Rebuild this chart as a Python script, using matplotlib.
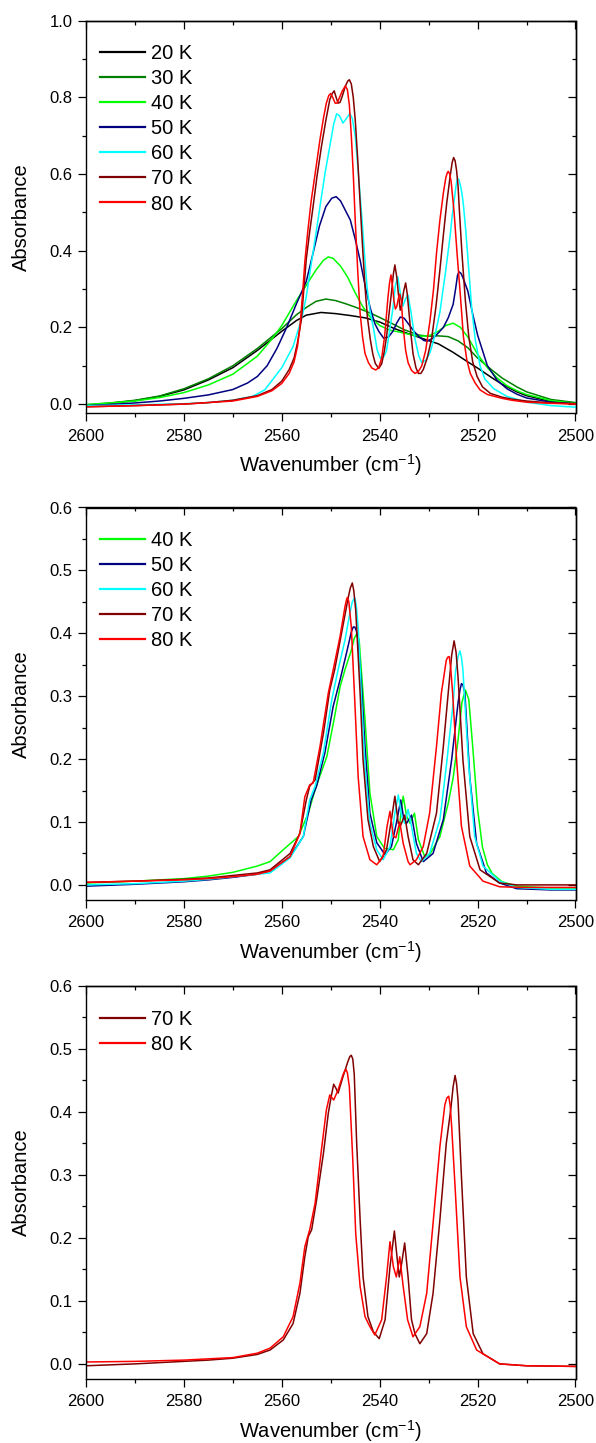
import matplotlib
matplotlib.use("Agg")
import matplotlib.pyplot as plt
from matplotlib.ticker import MultipleLocator, FormatStrFormatter

plt.rcParams["font.family"] = ["Liberation Sans", "DejaVu Sans"]
plt.rcParams["mathtext.fontset"] = "custom"
plt.rcParams["mathtext.rm"] = "Liberation Sans"
plt.rcParams["mathtext.it"] = "Liberation Sans:italic"

# ---------------- panel 1: 20-80 K ----------------
p1_wn_20 = [2600, 2595, 2590, 2585, 2580, 2575, 2570, 2565, 2560, 2557, 2555, 2552, 2549, 2546,
            2543, 2540, 2537, 2534, 2531, 2528, 2525, 2522, 2520, 2517, 2515, 2512, 2510, 2505, 2500]
p1_ab_20 = [-0.004, 0.002, 0.009, 0.020, 0.037, 0.063, 0.095, 0.140, 0.190, 0.218, 0.232, 0.239, 0.236, 0.231,
            0.225, 0.214, 0.197, 0.183, 0.170, 0.157, 0.135, 0.110, 0.094, 0.068, 0.052, 0.032, 0.022, 0.007, 0.002]

p1_wn_30 = [2600, 2595, 2590, 2585, 2580, 2575, 2570, 2565, 2560, 2557, 2555, 2553, 2551, 2549, 2547,
            2545, 2542, 2540, 2537, 2535, 2532, 2530, 2528, 2526, 2524, 2522, 2520, 2517, 2515, 2512,
            2510, 2505, 2500]
p1_ab_30 = [-0.002, 0.003, 0.010, 0.021, 0.040, 0.066, 0.100, 0.145, 0.197, 0.233, 0.252, 0.268, 0.274, 0.270, 0.262,
            0.253, 0.238, 0.226, 0.207, 0.194, 0.180, 0.177, 0.178, 0.176, 0.165, 0.147, 0.120, 0.088, 0.068, 0.045,
            0.032, 0.012, 0.004]

p1_wn_40 = [2600, 2595, 2590, 2585, 2580, 2575, 2570, 2565, 2562, 2560, 2557, 2555, 2553, 2551.5, 2550.5,
            2549.5, 2548, 2546.5, 2545, 2543.5, 2542, 2540, 2538, 2536, 2534, 2532, 2530, 2528, 2526.5,
            2525, 2523.5, 2522, 2520, 2518, 2516, 2514, 2512, 2510, 2505, 2500]
p1_ab_40 = [-0.001, 0.003, 0.008, 0.017, 0.030, 0.050, 0.078, 0.125, 0.170, 0.205, 0.270, 0.310, 0.350, 0.375, 0.384,
            0.380, 0.360, 0.330, 0.290, 0.255, 0.228, 0.205, 0.193, 0.188, 0.182, 0.177, 0.178, 0.190, 0.205,
            0.211, 0.200, 0.175, 0.130, 0.095, 0.068, 0.048, 0.035, 0.025, 0.009, 0.002]

p1_wn_50 = [2600, 2595, 2590, 2585, 2580, 2575, 2570, 2567, 2565, 2563, 2561, 2559, 2557, 2555, 2553.5,
            2552.3, 2551, 2549.8, 2548.9, 2548, 2547, 2546, 2545, 2544, 2543, 2542, 2541, 2540.2, 2539.2,
            2538.2, 2537.3, 2536.5, 2535.8, 2535, 2534, 2533, 2532, 2531, 2530.3, 2529, 2528, 2527, 2526,
            2525, 2524.5, 2524.1, 2523.8, 2523.4, 2523, 2522, 2521, 2520, 2519, 2518, 2516, 2514, 2512,
            2510, 2505, 2500]
p1_ab_50 = [-0.004, -0.001, 0.003, 0.008, 0.015, 0.024, 0.038, 0.055, 0.072, 0.100, 0.145, 0.200, 0.262, 0.320, 0.400,
            0.465, 0.515, 0.537, 0.541, 0.530, 0.505, 0.480, 0.430, 0.375, 0.310, 0.254, 0.210, 0.190, 0.172,
            0.175, 0.190, 0.212, 0.227, 0.224, 0.207, 0.190, 0.176, 0.166, 0.164, 0.173, 0.186, 0.200, 0.225,
            0.260, 0.300, 0.336, 0.345, 0.341, 0.330, 0.295, 0.235, 0.180, 0.140, 0.100, 0.062, 0.040, 0.026,
            0.016, 0.005, 0.001]

p1_wn_60 = [2600, 2590, 2580, 2575, 2570, 2566, 2563.5, 2561.5, 2560, 2557.7, 2556.5, 2555.7, 2555, 2554.3,
            2553.2, 2552.2, 2551.2, 2550.2, 2549.4, 2548.8, 2548.2, 2547.5, 2546.8, 2546.1, 2545.6, 2545,
            2544.6, 2544.1, 2543.6, 2543.1, 2542.6, 2542, 2541.2, 2540.5, 2539.8, 2539.1, 2538.6, 2538,
            2537.3, 2536.8, 2536.3, 2535.8, 2535.3, 2534.7, 2534.2, 2533.6, 2532.8, 2532, 2531.4, 2530.5,
            2529.7, 2528.7, 2527.7, 2526.6, 2525.6, 2525.2, 2524.8, 2524.4, 2524.1, 2523.8, 2523.5, 2523.2,
            2522.9, 2522.4, 2521.8, 2521.2, 2520.5, 2519.5, 2518.5, 2516.7, 2514, 2510, 2505, 2500]
p1_ab_60 = [-0.004, -0.002, 0.001, 0.004, 0.010, 0.020, 0.037, 0.070, 0.095, 0.150, 0.200, 0.237, 0.280, 0.340,
            0.430, 0.515, 0.600, 0.672, 0.730, 0.757, 0.752, 0.733, 0.745, 0.758, 0.745, 0.700,
            0.640, 0.560, 0.480, 0.390, 0.307, 0.245, 0.193, 0.140, 0.118, 0.125, 0.140, 0.190,
            0.250, 0.310, 0.332, 0.290, 0.255, 0.275, 0.284, 0.240, 0.170, 0.125, 0.108, 0.115,
            0.135, 0.180, 0.240, 0.340, 0.440, 0.490, 0.530, 0.570, 0.589, 0.585, 0.570, 0.550,
            0.520, 0.450, 0.350, 0.250, 0.170, 0.100, 0.065, 0.040, 0.020, 0.005, -0.004, -0.008]

p1_wn_70 = [2600, 2590, 2580, 2575, 2570, 2565, 2562, 2560, 2558.5, 2557.5, 2556.8, 2556, 2555.5, 2555,
            2554.3, 2553.6, 2552.8, 2551.9, 2551, 2550.2, 2549.7, 2549.3, 2548.9, 2548.5, 2548.1, 2547.6,
            2547, 2546.5, 2546.2, 2545.8, 2545.4, 2545, 2544.5, 2544, 2543.5, 2543, 2542.5, 2541.9, 2541.4,
            2540.9, 2540.2, 2539.6, 2539.1, 2538.6, 2538.1, 2537.6, 2537.2, 2536.9, 2536.5, 2536.2, 2535.8,
            2535.5, 2535.1, 2534.7, 2534.4, 2534, 2533.6, 2533.2, 2532.6, 2532.1, 2531.6, 2531.1, 2530.3,
            2529.4, 2528.5, 2527.7, 2527, 2526.3, 2525.6, 2525.2, 2524.9, 2524.6, 2524.3, 2524.0, 2523.7,
            2523.2, 2522.5, 2521.8, 2521, 2520.1, 2519, 2517.4, 2515, 2513, 2510, 2505, 2500]
p1_ab_70 = [-0.007, -0.004, 0.000, 0.004, 0.010, 0.022, 0.038, 0.060, 0.090, 0.120, 0.160, 0.220, 0.300, 0.378,
            0.450, 0.516, 0.595, 0.672, 0.740, 0.794, 0.810, 0.817, 0.800, 0.785, 0.787, 0.805,
            0.830, 0.843, 0.846, 0.835, 0.800, 0.742, 0.640, 0.524, 0.410, 0.306, 0.225, 0.167, 0.130,
            0.106, 0.093, 0.105, 0.135, 0.176, 0.235, 0.290, 0.340, 0.363, 0.330, 0.290, 0.245,
            0.260, 0.295, 0.316, 0.290, 0.237, 0.180, 0.132, 0.095, 0.080, 0.080, 0.090, 0.120,
            0.170, 0.255, 0.350, 0.440, 0.525, 0.595, 0.630, 0.643, 0.635, 0.610, 0.570, 0.500,
            0.394, 0.270, 0.176, 0.110, 0.072, 0.045, 0.028, 0.018, 0.013, 0.008, 0.003, 0.001]

p1_wn_80 = [2600, 2590, 2580, 2575, 2570, 2565, 2562, 2560, 2558.5, 2557.5, 2556.8, 2556.3, 2555.8, 2555.3,
            2554.7, 2554, 2553.2, 2552.2, 2551.5, 2550.9, 2550.4, 2550, 2549.6, 2549.1, 2548.7, 2548.2,
            2547.6, 2547, 2546.6, 2546.2, 2545.8, 2545.4, 2545, 2544.5, 2544, 2543.5, 2543, 2542.3, 2541.6,
            2540.8, 2540.2, 2539.6, 2539, 2538.6, 2538.3, 2538, 2537.7, 2537.4, 2537.1, 2536.8, 2536.5,
            2536.2, 2535.9, 2535.6, 2535.2, 2534.7, 2534.2, 2533.5, 2532.8, 2532.1, 2531.4, 2530.6, 2529.7,
            2529, 2528.4, 2527.7, 2527, 2526.5, 2526.2, 2526, 2525.7, 2525.4, 2525.1, 2524.8, 2524.2, 2523.5,
            2522.9, 2522.2, 2521.5, 2520.5, 2519.5, 2518, 2515, 2513, 2510, 2505, 2500]
p1_ab_80 = [-0.007, -0.004, 0.000, 0.004, 0.008, 0.020, 0.035, 0.054, 0.080, 0.110, 0.150, 0.200, 0.280, 0.370,
            0.450, 0.530, 0.600, 0.690, 0.745, 0.785, 0.805, 0.810, 0.800, 0.785, 0.785, 0.800,
            0.818, 0.830, 0.820, 0.780, 0.700, 0.600, 0.480, 0.350, 0.237, 0.175, 0.132, 0.108, 0.094,
            0.089, 0.095, 0.120, 0.176, 0.235, 0.280, 0.315, 0.337, 0.310, 0.270, 0.248, 0.255,
            0.275, 0.287, 0.270, 0.200, 0.140, 0.108, 0.088, 0.080, 0.085, 0.100, 0.140, 0.220,
            0.300, 0.393, 0.480, 0.550, 0.590, 0.603, 0.607, 0.600, 0.580, 0.540, 0.500, 0.394, 0.280,
            0.176, 0.115, 0.080, 0.055, 0.037, 0.025, 0.015, 0.010, 0.005, 0.002, 0.000]

# ---------------- panel 2: 40-80 K ----------------
p2_wn_40 = [2600, 2590, 2580, 2575, 2570, 2565, 2562.4, 2559.7, 2556.6, 2554.6, 2553.2, 2552.5, 2550.8, 2549.2,
            2548.1, 2547.1, 2545.8, 2545.2, 2544.7, 2544.2, 2543.9, 2543, 2542, 2540.6, 2539, 2537.2, 2536.2,
            2535.6, 2535.2, 2534.5, 2533.8, 2532.9, 2532.1, 2530.8, 2529.8, 2527.7, 2526, 2525, 2524,
            2523.2, 2522.5, 2521.8, 2521, 2520, 2519, 2518, 2517, 2515, 2512, 2505, 2500]
p2_ab_40 = [0.003, 0.006, 0.010, 0.014, 0.020, 0.030, 0.037, 0.056, 0.077, 0.114, 0.151, 0.167, 0.204, 0.268,
            0.315, 0.342, 0.373, 0.392, 0.399, 0.390, 0.357, 0.262, 0.146, 0.077, 0.058, 0.056, 0.072,
            0.120, 0.141, 0.109, 0.098, 0.114, 0.072, 0.045, 0.048, 0.077, 0.130, 0.170, 0.230,
            0.290, 0.310, 0.295, 0.220, 0.120, 0.060, 0.032, 0.018, 0.005, -0.002, -0.005, -0.005]

p2_wn_50 = [2600, 2590, 2580, 2575, 2570, 2565, 2562.4, 2558.3, 2555.6, 2554, 2552.9, 2551.2, 2549.5, 2548.1,
            2546.8, 2545.8, 2545.4, 2545.1, 2544.8, 2544.4, 2543.7, 2543, 2542, 2540.6, 2538.9, 2537.6,
            2536.6, 2535.7, 2535.1, 2534.5, 2533.5, 2532.5, 2531.1, 2529.1, 2527, 2525.3, 2524, 2523.6,
            2523.3, 2523, 2522.6, 2521.6, 2520.2, 2518.2, 2515.5, 2512, 2505, 2500]
p2_ab_50 = [-0.002, 0.001, 0.005, 0.008, 0.012, 0.017, 0.022, 0.045, 0.077, 0.135, 0.157, 0.210, 0.284, 0.326,
            0.368, 0.402, 0.410, 0.410, 0.405, 0.389, 0.315, 0.220, 0.114, 0.067, 0.048, 0.061,
            0.098, 0.135, 0.106, 0.098, 0.111, 0.066, 0.037, 0.050, 0.104, 0.199, 0.289, 0.310,
            0.320, 0.318, 0.305, 0.172, 0.066, 0.019, 0.003, -0.006, -0.008, -0.008]

p2_wn_60 = [2600, 2590, 2580, 2575, 2570, 2565, 2562.4, 2558.3, 2555.6, 2554.3, 2553.2, 2551.5, 2549.8, 2548.5,
            2547.1, 2546.1, 2545.6, 2545.1, 2544.8, 2544.4, 2543.7, 2543, 2542, 2540.6, 2539.3, 2537.9,
            2536.9, 2536.2, 2535.5, 2534.9, 2534.2, 2533.5, 2532.5, 2531.5, 2529.8, 2527.7, 2526.4, 2525,
            2524.5, 2524, 2523.6, 2523.3, 2523, 2521.9, 2520.6, 2518.9, 2515.5, 2512, 2505, 2500]
p2_ab_60 = [0.000, 0.002, 0.006, 0.009, 0.013, 0.017, 0.019, 0.043, 0.077, 0.135, 0.157, 0.210, 0.294, 0.342,
            0.389, 0.432, 0.450, 0.457, 0.445, 0.410, 0.294, 0.188, 0.098, 0.056, 0.040, 0.061,
            0.114, 0.143, 0.109, 0.098, 0.120, 0.093, 0.050, 0.037, 0.050, 0.104, 0.188, 0.289,
            0.340, 0.363, 0.372, 0.362, 0.342, 0.199, 0.077, 0.030, 0.006, -0.004, -0.007, -0.007]

p2_wn_70 = [2600, 2590, 2580, 2575, 2570, 2565, 2562.4, 2558.3, 2556.3, 2555, 2554.3, 2553.2, 2551.5, 2550.2,
            2549.2, 2547.8, 2546.4, 2546, 2545.6, 2545.3, 2544.9, 2544, 2543.4, 2542.4, 2541.3, 2540, 2538.6,
            2537.6, 2536.9, 2536.2, 2535.7, 2534.9, 2534.2, 2533.2, 2532.1, 2530.4, 2528.4, 2527, 2525.7,
            2525.3, 2524.8, 2524.4, 2524, 2523, 2521.6, 2519.5, 2515.5, 2512, 2505, 2500]
p2_ab_70 = [0.004, 0.006, 0.009, 0.011, 0.015, 0.019, 0.024, 0.050, 0.082, 0.135, 0.157, 0.167, 0.241, 0.310,
            0.342, 0.400, 0.458, 0.472, 0.480, 0.468, 0.437, 0.305, 0.199, 0.104, 0.061, 0.037, 0.056,
            0.104, 0.141, 0.098, 0.095, 0.111, 0.077, 0.040, 0.032, 0.050, 0.114, 0.220, 0.331,
            0.365, 0.388, 0.370, 0.331, 0.199, 0.077, 0.024, 0.003, 0.000, 0.000, 0.000]

p2_wn_80 = [2600, 2590, 2580, 2575, 2570, 2565, 2562.4, 2558.3, 2556.3, 2555.3, 2554.3, 2553.6, 2552.2, 2550.5,
            2549.5, 2548.1, 2547.1, 2546.8, 2546.6, 2546.3, 2545.8, 2545.1, 2544.4, 2543.4, 2542, 2540.6,
            2539.3, 2538.5, 2537.9, 2537.2, 2536.7, 2535.9, 2535.2, 2534.2, 2533.8, 2532.5, 2531.1, 2529.8,
            2528.4, 2527.4, 2526.4, 2526.1, 2525.8, 2525.5, 2525.1, 2524.3, 2523.3, 2521.6, 2518.9, 2515.5,
            2510, 2500]
p2_ab_80 = [0.004, 0.006, 0.008, 0.010, 0.013, 0.017, 0.022, 0.045, 0.082, 0.140, 0.159, 0.162, 0.220, 0.305,
            0.342, 0.395, 0.442, 0.453, 0.457, 0.450, 0.410, 0.294, 0.172, 0.077, 0.040, 0.032,
            0.045, 0.093, 0.117, 0.077, 0.075, 0.100, 0.066, 0.037, 0.032, 0.040, 0.061, 0.114,
            0.220, 0.305, 0.357, 0.362, 0.363, 0.345, 0.305, 0.200, 0.093, 0.030, 0.006, -0.003,
            -0.004, -0.004]

# ---------------- panel 3: 70 and 80 K ----------------
p3_wn_70 = [2600, 2590, 2580, 2575, 2570, 2565, 2562.4, 2559.7, 2557.7, 2556.3, 2555.3, 2554.6, 2553.9, 2552.9,
            2551.5, 2550.5, 2549.9, 2549.4, 2548.9, 2548.5, 2547.5, 2546.5, 2546.1, 2545.8, 2545.5, 2545.2,
            2544.7, 2544, 2543.4, 2542.4, 2541.3, 2540.1, 2538.9, 2537.9, 2537, 2536.4, 2536, 2535.5,
            2534.9, 2534.2, 2533.5, 2532.8, 2531.8, 2530.4, 2529.1, 2527.7, 2526.4, 2525.5, 2525, 2524.6,
            2524.3, 2524, 2523.3, 2522.3, 2520.9, 2518.9, 2515.5, 2510, 2500]
p3_ab_70 = [-0.003, 0.000, 0.004, 0.006, 0.009, 0.015, 0.022, 0.038, 0.064, 0.112, 0.170, 0.202, 0.213, 0.260,
            0.334, 0.398, 0.425, 0.444, 0.437, 0.430, 0.456, 0.480, 0.488, 0.490, 0.484, 0.460,
            0.350, 0.229, 0.138, 0.075, 0.051, 0.040, 0.070, 0.154, 0.211, 0.165, 0.138, 0.160,
            0.192, 0.138, 0.070, 0.048, 0.032, 0.048, 0.112, 0.229, 0.350, 0.403, 0.440, 0.458,
            0.445, 0.419, 0.297, 0.138, 0.048, 0.016, 0.000, -0.003, -0.004]

p3_wn_80 = [2600, 2590, 2580, 2575, 2570, 2565, 2562.4, 2559.7, 2557.7, 2556.3, 2555.3, 2554.3, 2553.2, 2551.9,
            2550.9, 2550.2, 2549.4, 2548.5, 2547.5, 2547.1, 2546.9, 2546.6, 2546.2, 2545.5, 2544.9, 2544,
            2543, 2542, 2541, 2539.6, 2538.6, 2537.9, 2537.2, 2536.6, 2535.9, 2535.2, 2534.3, 2533.2,
            2531.8, 2530.4, 2529.1, 2527.7, 2526.7, 2526.3, 2525.9, 2525.6, 2525.3, 2524.6, 2523.6, 2522.3,
            2520.2, 2515.5, 2510, 2500]
p3_ab_80 = [0.003, 0.004, 0.006, 0.008, 0.010, 0.017, 0.025, 0.043, 0.075, 0.128, 0.186, 0.213, 0.255, 0.340,
            0.403, 0.427, 0.419, 0.435, 0.459, 0.466, 0.468, 0.462, 0.440, 0.324, 0.207, 0.123,
            0.075, 0.059, 0.046, 0.070, 0.138, 0.194, 0.154, 0.138, 0.170, 0.123, 0.070, 0.043,
            0.059, 0.112, 0.223, 0.345, 0.411, 0.422, 0.425, 0.410, 0.377, 0.281, 0.138, 0.059,
            0.022, 0.000, -0.003, -0.004]

colors = {"20 K": "#000000", "30 K": "#008000", "40 K": "#00FF00", "50 K": "#000080",
          "60 K": "#00FFFF", "70 K": "#800000", "80 K": "#FF0000"}

panels = [
    ([("20 K", p1_wn_20, p1_ab_20), ("30 K", p1_wn_30, p1_ab_30), ("40 K", p1_wn_40, p1_ab_40),
      ("50 K", p1_wn_50, p1_ab_50), ("60 K", p1_wn_60, p1_ab_60), ("70 K", p1_wn_70, p1_ab_70),
      ("80 K", p1_wn_80, p1_ab_80)], 1.0, 0.2, 0.1),
    ([("40 K", p2_wn_40, p2_ab_40), ("50 K", p2_wn_50, p2_ab_50), ("60 K", p2_wn_60, p2_ab_60),
      ("70 K", p2_wn_70, p2_ab_70), ("80 K", p2_wn_80, p2_ab_80)], 0.6, 0.1, 0.05),
    ([("70 K", p3_wn_70, p3_ab_70), ("80 K", p3_wn_80, p3_ab_80)], 0.6, 0.1, 0.05),
]

W, H = 596, 1443
fig = plt.figure(figsize=(W / 100, H / 100), dpi=100)

# axes frames in pixels: (left, top, right, bottom)
frames = [(86, 20.7, 575.5, 413.3), (86, 507.5, 575.5, 900.0), (86, 986.0, 575.5, 1379.0)]

for (series, ytop, ymaj, ymin_step), (l, t, r, b) in zip(panels, frames):
    ax = fig.add_axes([l / W, 1 - b / H, (r - l) / W, (b - t) / H])
    for name, wn, ab in series:
        ax.plot(wn, ab, color=colors[name], lw=1.1, label=name)
    ax.set_xlim(2600, 2500)
    ax.set_ylim(-0.024, ytop)

    ax.xaxis.set_major_locator(MultipleLocator(20))
    ax.xaxis.set_minor_locator(MultipleLocator(10))
    ax.yaxis.set_major_locator(MultipleLocator(ymaj))
    ax.yaxis.set_minor_locator(MultipleLocator(ymin_step))
    ax.yaxis.set_major_formatter(FormatStrFormatter("%.1f"))
    ax.xaxis.set_major_formatter(FormatStrFormatter("%d"))
    ax.tick_params(axis="both", which="major", direction="out", length=6, width=0.9,
                   labelsize=12, top=False, right=False)
    ax.tick_params(axis="both", which="minor", direction="out", length=3.2, width=0.9,
                   top=False, right=False)
    ax.tick_params(axis="x", which="major", pad=5)
    ax.tick_params(axis="y", which="major", pad=3.5)
    for sp in ax.spines.values():
        sp.set_linewidth(1.0)

    # inward mirrored ticks on the top and right frame
    sx = ax.secondary_xaxis("top")
    sx.xaxis.set_major_locator(MultipleLocator(20))
    sx.xaxis.set_minor_locator(MultipleLocator(10))
    sx.tick_params(which="major", direction="in", length=5.5, width=0.9, labeltop=False)
    sx.tick_params(which="minor", direction="in", length=3.0, width=0.9)
    sy = ax.secondary_yaxis("right")
    sy.yaxis.set_major_locator(MultipleLocator(ymaj))
    sy.yaxis.set_minor_locator(MultipleLocator(ymin_step))
    sy.tick_params(which="major", direction="in", length=5.5, width=0.9, labelright=False)
    sy.tick_params(which="minor", direction="in", length=3.0, width=0.9)
    sx.spines["top"].set_linewidth(1.0)
    sy.spines["right"].set_linewidth(1.0)

    ax.set_ylabel("Absorbance", fontsize=14.5)
    ax.set_xlabel("Wavenumber (cm$^{\\mathregular{-1}}$)", fontsize=14.5)
    ax.yaxis.set_label_coords(-0.112, 0.5)
    ax.xaxis.set_label_coords(0.5, -0.1)

    leg = ax.legend(loc="upper left", bbox_to_anchor=(0.028, 0.94), frameon=False,
                    fontsize=14.5, handlelength=2.25, handletextpad=0.32,
                    labelspacing=0.3, borderaxespad=0.0, borderpad=0.0)
    for line in leg.get_lines():
        line.set_linewidth(1.6)

fig.savefig("out.png", dpi=100)
